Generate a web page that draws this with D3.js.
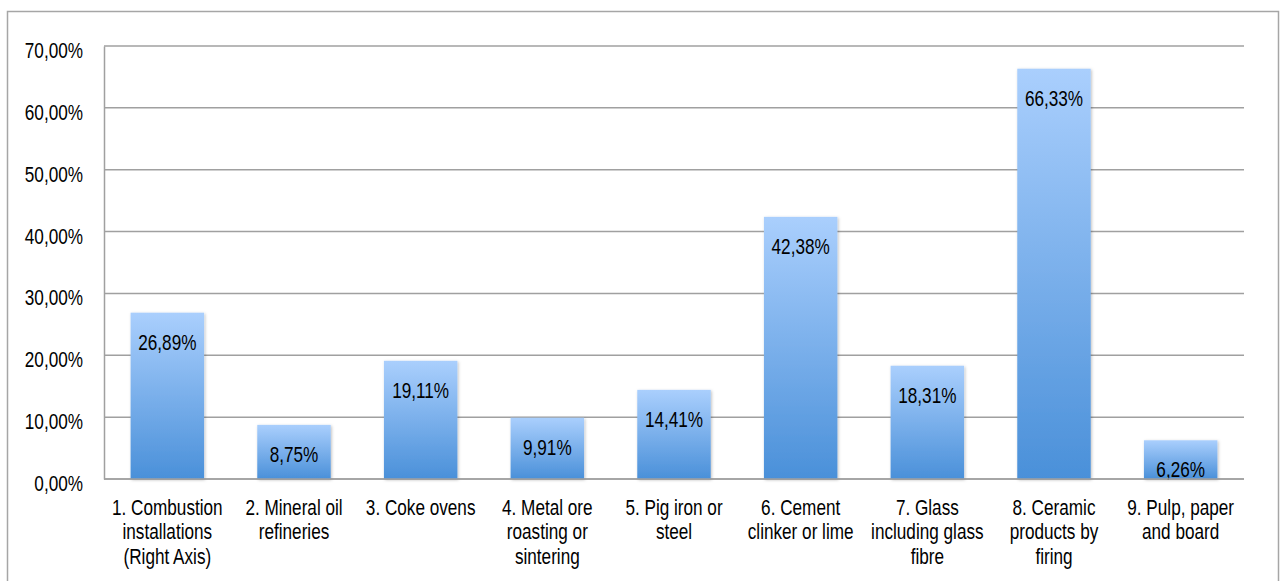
<!DOCTYPE html>
<html>
<head>
<meta charset="utf-8">
<script src="https://cdn.jsdelivr.net/npm/d3@7"></script>
<style>
  body { margin: 0; background: #fff; }
  text { font-family: "Liberation Sans", Arial, sans-serif; fill: #000; }
</style>
</head>
<body>
<div id="chart"></div>
<script>
var categories = [
  ["1. Combustion", "installations", "(Right Axis)"],
  ["2. Mineral oil", "refineries"],
  ["3. Coke ovens"],
  ["4. Metal ore", "roasting or", "sintering"],
  ["5. Pig iron or", "steel"],
  ["6. Cement", "clinker or lime"],
  ["7. Glass", "including glass", "fibre"],
  ["8. Ceramic", "products by", "firing"],
  ["9. Pulp, paper", "and board"]
];
var values = [26.89, 8.75, 19.11, 9.91, 14.41, 42.38, 18.31, 66.33, 6.26];
var yTicks = [0, 10, 20, 30, 40, 50, 60, 70];

var W = 1285, H = 581;
var margin = { left: 104, top: 46, right: 41, bottom: 102 };
var width = W - margin.left - margin.right;
var height = H - margin.top - margin.bottom;
var sx = 0.78; // narrow text look
var fs = "22px";

var fmt = function (v) { return v.toFixed(2).replace(".", ",") + "%"; };

var root = d3.select("#chart").append("svg").attr("width", W).attr("height", H);

// outer frame
root.append("rect")
  .attr("x", 7.5).attr("y", 11.5)
  .attr("width", 1271).attr("height", 580)
  .attr("fill", "none").attr("stroke", "#a6a6a6").attr("stroke-width", 1.5);

var defs = root.append("defs");
var grad = defs.append("linearGradient").attr("id", "barGrad")
  .attr("x1", 0).attr("y1", 0).attr("x2", 0).attr("y2", 1);
grad.append("stop").attr("offset", "0%").attr("stop-color", "#aacffd");
grad.append("stop").attr("offset", "100%").attr("stop-color", "#4a90d9");

var filter = defs.append("filter").attr("id", "shadow")
  .attr("x", "-20%").attr("y", "-20%").attr("width", "140%").attr("height", "140%");
filter.append("feDropShadow").attr("dx", 1).attr("dy", 1).attr("stdDeviation", 1.5)
  .attr("flood-color", "#000").attr("flood-opacity", 0.25);

var svg = root.append("g")
  .attr("transform", "translate(" + margin.left + "," + margin.top + ")");

var x = d3.scaleBand().range([0, width]).paddingInner(0.42).paddingOuter(0.21)
  .domain(d3.range(values.length));
var y = d3.scaleLinear().range([height, 0]).domain([0, 70]);

// gridlines
svg.selectAll("line.grid")
  .data(yTicks)
  .enter()
  .append("line")
  .attr("class", "grid")
  .attr("x1", 0).attr("x2", width)
  .attr("y1", function (d) { return y(d); })
  .attr("y2", function (d) { return y(d); })
  .attr("stroke", "#a0a0a0").attr("stroke-width", 1.5);

// y axis
var yAxis = svg.append("g")
  .call(d3.axisLeft(y).tickValues(yTicks).tickFormat(fmt).tickSize(0).tickPadding(21));
yAxis.select(".domain").attr("stroke", "#a0a0a0").attr("stroke-width", 1.5);
yAxis.selectAll("text")
  .style("font-size", fs)
  .attr("x", -21 / sx)
  .attr("dy", "0.52em")
  .attr("transform", "scale(" + sx + ",1)");

// bars
svg.selectAll("rect.bar")
  .data(values)
  .enter()
  .append("rect")
  .attr("class", "bar")
  .attr("x", function (d, i) { return x(i); })
  .attr("width", x.bandwidth())
  .attr("y", function (d) { return y(d); })
  .attr("height", function (d) { return height - y(d); })
  .attr("fill", "url(#barGrad)")
  .attr("filter", "url(#shadow)");

// value labels
svg.selectAll("g.val")
  .data(values)
  .enter()
  .append("g")
  .attr("class", "val")
  .attr("transform", function (d, i) {
    return "translate(" + (x(i) + x.bandwidth() / 2) + "," + (y(d) + 37) + ")";
  })
  .append("text")
  .attr("text-anchor", "middle")
  .attr("transform", "scale(" + sx + ",1)")
  .style("font-size", fs)
  .text(fmt);

// bottom axis line
svg.append("line")
  .attr("x1", 0).attr("x2", width)
  .attr("y1", height).attr("y2", height)
  .attr("stroke", "#a0a0a0").attr("stroke-width", 1.5);

// category labels
var cat = svg.selectAll("g.cat")
  .data(categories)
  .enter()
  .append("g")
  .attr("class", "cat")
  .attr("transform", function (d, i) {
    return "translate(" + (x(i) + x.bandwidth() / 2) + "," + (height + 36) + ")";
  })
  .append("text")
  .attr("text-anchor", "middle")
  .attr("transform", "scale(" + sx + ",1)")
  .style("font-size", fs);
cat.selectAll("tspan")
  .data(function (d) { return d; })
  .enter()
  .append("tspan")
  .attr("x", 0)
  .attr("y", function (d, j) { return j * 24.5; })
  .text(function (d) { return d; });
</script>
</body>
</html>
